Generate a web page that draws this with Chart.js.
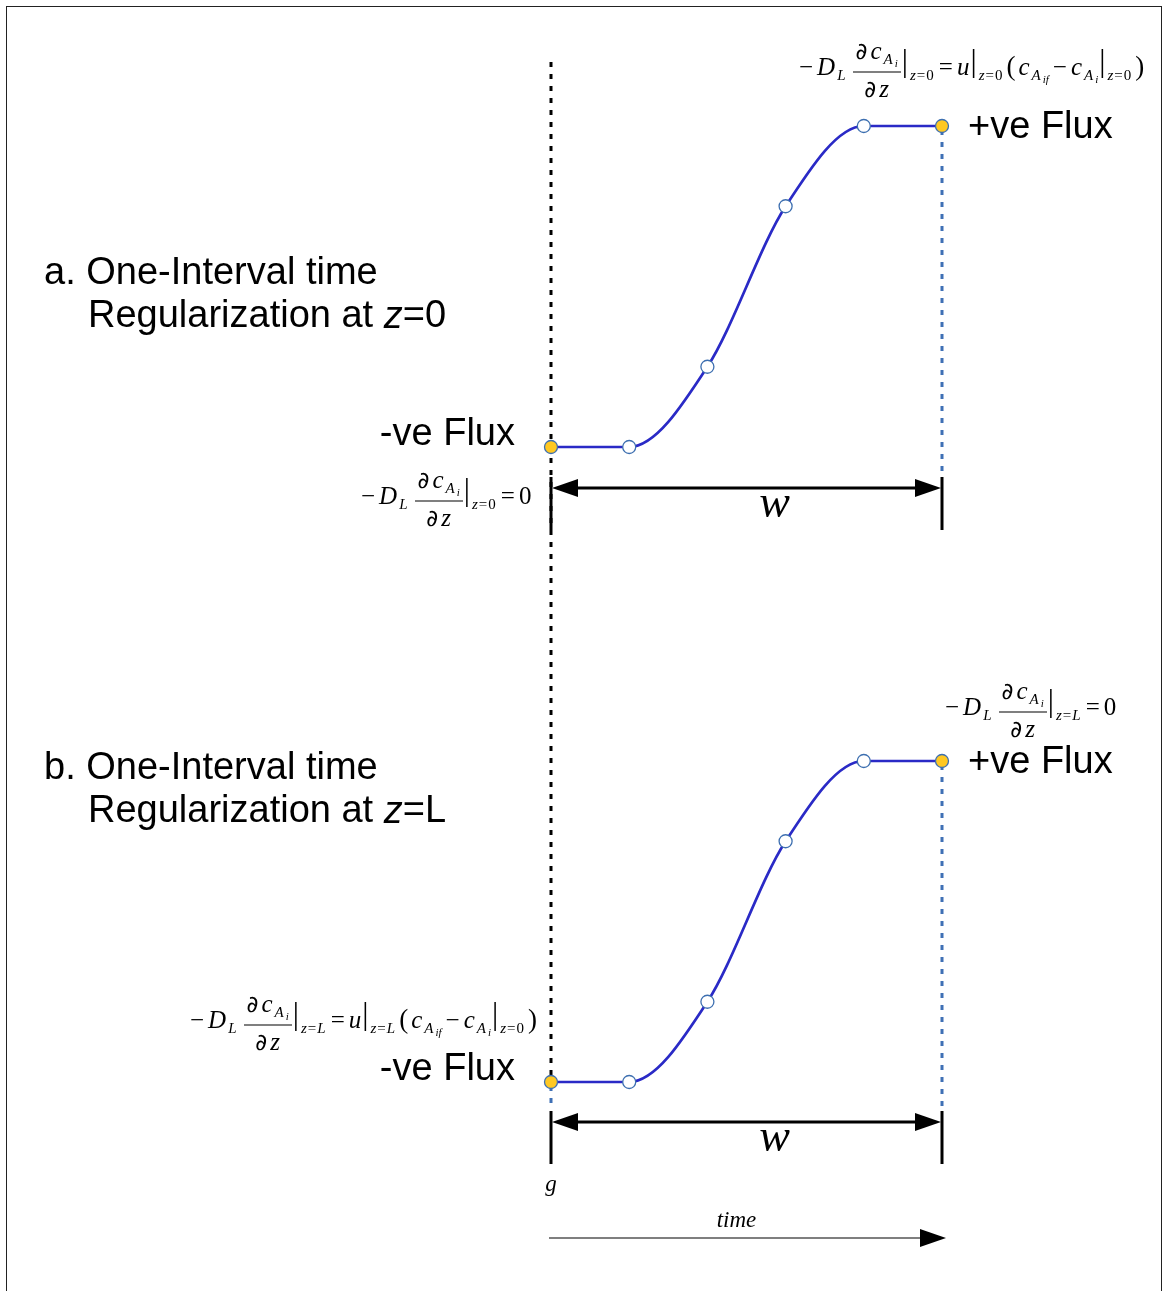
<!DOCTYPE html>
<html>
<head>
<meta charset="utf-8">
<script src="https://cdn.jsdelivr.net/npm/chart.js@4.4.1/dist/chart.umd.min.js"></script>
<style>
  html, body { margin: 0; padding: 0; background: #fff; }
  body { width: 1163px; height: 1291px; position: relative; overflow: hidden; }
  #frame { position: absolute; left: 6px; top: 6px; width: 1154px; height: 1400px; border: 1px solid #222; }
  .plot { position: absolute; left: 0; top: 0; }
  .eq { position: absolute; font-family: "Liberation Serif", serif; font-size: 25px; white-space: nowrap;
        transform: translateY(-50%); color: #000; line-height: 1; }
  .eq i { font-style: italic; }
  .eq sub { font-size: 15px; vertical-align: -5px; margin-left: 2px; letter-spacing: 1px; }
  .eq sub sub { font-size: 11px; vertical-align: -3px; margin-left: 1px; letter-spacing: 0; }
  .frac { display: inline-block; vertical-align: middle; text-align: center; margin: 0 0 0 6px; }
  .frac > span { display: block; }
  .frac .num { border-bottom: 1.6px solid #000; padding: 0 3px 3px 3px; }
  .frac .den { padding-top: 3px; }
  .pd { font-family: "DejaVu Sans", sans-serif; font-size: 23px; margin-right: 3px; }
  .bar { font-size: 31px; margin: 0 0 0 1px; position: relative; top: -4px; }
  .op { margin: 0 4px; }
  .par { font-size: 27px; margin: 0 3px; }
</style>
</head>
<body>
<div id="frame"></div>
<canvas id="panelA" class="plot" width="1163" height="1291"></canvas>
<canvas id="panelB" class="plot" width="1163" height="1291"></canvas>

<script>
// time steps across one regularization interval and the normalized concentration profiles
const timeSteps = [0, 1, 2, 3, 4, 5];
const profileA = [0, 0, 0.25, 0.75, 1, 1];
const profileB = [0, 0, 0.25, 0.75, 1, 1];

const panelTitles = {
  a: ['a. One-Interval time', 'Regularization at ', 'z', '=0'],
  b: ['b. One-Interval time', 'Regularization at ', 'z', '=L']
};
const fluxLabels = ['-ve Flux', '+ve Flux'];
const spanLabel = 'w';
const axisLabels = ['g', 'time'];

const curveColor = '#2a2ac6';
const pointEdge = '#3d6fb0';
const fluxYellow = '#ffc822';
const guideBlue = '#3f70b5';
const last = timeSteps.length - 1;

function arrowHead(ctx, x, y, dir, len, half) {
  ctx.beginPath();
  ctx.moveTo(x, y);
  ctx.lineTo(x - dir * len, y - half);
  ctx.lineTo(x - dir * len, y + half);
  ctx.closePath();
  ctx.fill();
}

function vline(ctx, x, y0, y1) {
  ctx.beginPath();
  ctx.moveTo(x, y0);
  ctx.lineTo(x, y1);
  ctx.stroke();
}

const diagramPlugin = {
  id: 'diagram',
  beforeDatasetsDraw(chart, args, opts) {
    const { ctx, scales: { x, y } } = chart;
    const x0 = x.getPixelForValue(timeSteps[0]);
    const x1 = x.getPixelForValue(timeSteps[last]);
    const yLow = y.getPixelForValue(0);
    const yHigh = y.getPixelForValue(1);
    const wy = yLow + opts.spanGap;
    ctx.save();
    ctx.lineWidth = 3;
    ctx.setLineDash([5, 7]);
    // black dotted boundary at the start of the interval
    if (opts.boundary) {
      ctx.strokeStyle = '#000';
      vline(ctx, x0, yHigh - opts.boundary[0], yLow + opts.boundary[1]);
    }
    // blue guides down to the span marker
    ctx.strokeStyle = guideBlue;
    vline(ctx, x1, yHigh + 4, wy - 12);
    if (opts.leadGuide) vline(ctx, x0, yLow + 4, wy - 12);
    ctx.restore();
  },
  afterDraw(chart, args, opts) {
    const { ctx, scales: { x, y } } = chart;
    const x0 = x.getPixelForValue(timeSteps[0]);
    const x1 = x.getPixelForValue(timeSteps[last]);
    const yLow = y.getPixelForValue(0);
    const yHigh = y.getPixelForValue(1);
    const wy = yLow + opts.spanGap;
    ctx.save();

    // span marker w
    ctx.strokeStyle = '#000';
    ctx.fillStyle = '#000';
    ctx.lineWidth = 3;
    vline(ctx, x0, wy - 11, wy + 42);
    vline(ctx, x1, wy - 11, wy + 42);
    ctx.beginPath();
    ctx.moveTo(x0 + 20, wy);
    ctx.lineTo(x1 - 20, wy);
    ctx.stroke();
    arrowHead(ctx, x0 + 1, wy, -1, 26, 9);
    arrowHead(ctx, x1 - 1, wy, 1, 26, 9);
    ctx.font = 'italic 46px "Liberation Serif"';
    ctx.textAlign = 'center';
    ctx.textBaseline = 'middle';
    ctx.fillText(spanLabel, (x0 + x1) / 2 + 28, wy + 17);

    // flux labels
    ctx.font = '38px "Liberation Sans"';
    ctx.textAlign = 'right';
    ctx.fillText(fluxLabels[0], x0 - 36, yLow - 12);
    ctx.textAlign = 'left';
    ctx.fillText(fluxLabels[1], x1 + 26, yHigh + 2);

    // panel title
    const t = opts.title;
    ctx.textAlign = 'left';
    ctx.fillText(t[0], 44, opts.titleY);
    let tx = 88;
    const ty = opts.titleY + 43;
    ctx.fillText(t[1], tx, ty);
    tx += ctx.measureText(t[1]).width;
    ctx.font = 'italic 38px "Liberation Sans"';
    ctx.fillText(t[2], tx, ty);
    tx += ctx.measureText(t[2]).width;
    ctx.font = '38px "Liberation Sans"';
    ctx.fillText(t[3], tx, ty);

    // time axis under the lower panel
    if (opts.timeAxis) {
      ctx.font = 'italic 23px "Liberation Serif"';
      ctx.textAlign = 'center';
      ctx.fillText(axisLabels[0], x0, wy + 63);
      const ay = wy + 116;
      ctx.fillText(axisLabels[1], (x0 + x1) / 2 - 10, ay - 17);
      ctx.strokeStyle = '#555';
      ctx.lineWidth = 1.5;
      ctx.beginPath();
      ctx.moveTo(x0 - 2, ay);
      ctx.lineTo(x1 - 20, ay);
      ctx.stroke();
      ctx.fillStyle = '#000';
      arrowHead(ctx, x1 + 4, ay, 1, 26, 9);
    }
    ctx.restore();
  }
};

function makePanel(id, profile, padding, extras) {
  return new Chart(document.getElementById(id), {
    type: 'line',
    data: {
      datasets: [{
        data: timeSteps.map((t, i) => ({ x: t, y: profile[i] })),
        borderColor: curveColor,
        borderWidth: 2.7,
        cubicInterpolationMode: 'monotone',
        pointRadius: 6.5,
        pointBorderWidth: 1.3,
        pointBorderColor: pointEdge,
        pointBackgroundColor: profile.map((v, i) => (i === 0 || i === last) ? fluxYellow : '#fff'),
        clip: false
      }]
    },
    options: {
      responsive: false,
      animation: false,
      events: [],
      layout: { padding },
      scales: {
        x: { type: 'linear', min: timeSteps[0], max: timeSteps[last], display: false },
        y: { min: 0, max: 1, display: false }
      },
      plugins: { legend: { display: false }, tooltip: { enabled: false }, diagram: extras }
    },
    plugins: [diagramPlugin]
  });
}

makePanel('panelA', profileA, { left: 551, right: 221, top: 126, bottom: 844 },
  { spanGap: 41, title: panelTitles.a, titleY: 274, boundary: [64, 630] });
makePanel('panelB', profileB, { left: 551, right: 221, top: 761, bottom: 209 },
  { spanGap: 40, title: panelTitles.b, titleY: 769, leadGuide: true, timeAxis: true });

// boundary-condition expressions
const dcdz = '<span class="frac"><span class="num"><span class="pd">∂</span><i>c</i><sub><i>A</i><sub><i>i</i></sub></sub></span>' +
  '<span class="den"><span class="pd">∂</span><i>z</i></span></span>';
const lhs = at => '<span class="op">−</span><i>D</i><sub><i>L</i></sub>' + dcdz + '<span class="bar">|</span><sub><i>z</i>=' + at + '</sub>';
const advective = at => '<span class="op">=</span><i>u</i><span class="bar">|</span><sub><i>z</i>=' + at + '</sub>' +
  '<span class="par">(</span><i>c</i><sub><i>A</i><sub><i>if</i></sub></sub><span class="op">−</span><i>c</i><sub><i>A</i><sub><i>i</i></sub></sub>' +
  '<span class="bar">|</span><sub><i>z</i>=0</sub><span class="par">)</span>';
const zeroFlux = '<span class="op">=</span>0';

const equations = [
  { left: 795, top: 69, html: lhs('0') + advective('0') },
  { left: 357, top: 498, html: lhs('0') + zeroFlux },
  { left: 941, top: 709, html: lhs('<i>L</i>') + zeroFlux },
  { left: 186, top: 1022, html: lhs('<i>L</i>') + advective('<i>L</i>') }
];
equations.forEach(e => {
  const d = document.createElement('div');
  d.className = 'eq';
  d.style.left = e.left + 'px';
  d.style.top = e.top + 'px';
  d.innerHTML = e.html;
  document.body.appendChild(d);
});
</script>
</body>
</html>
